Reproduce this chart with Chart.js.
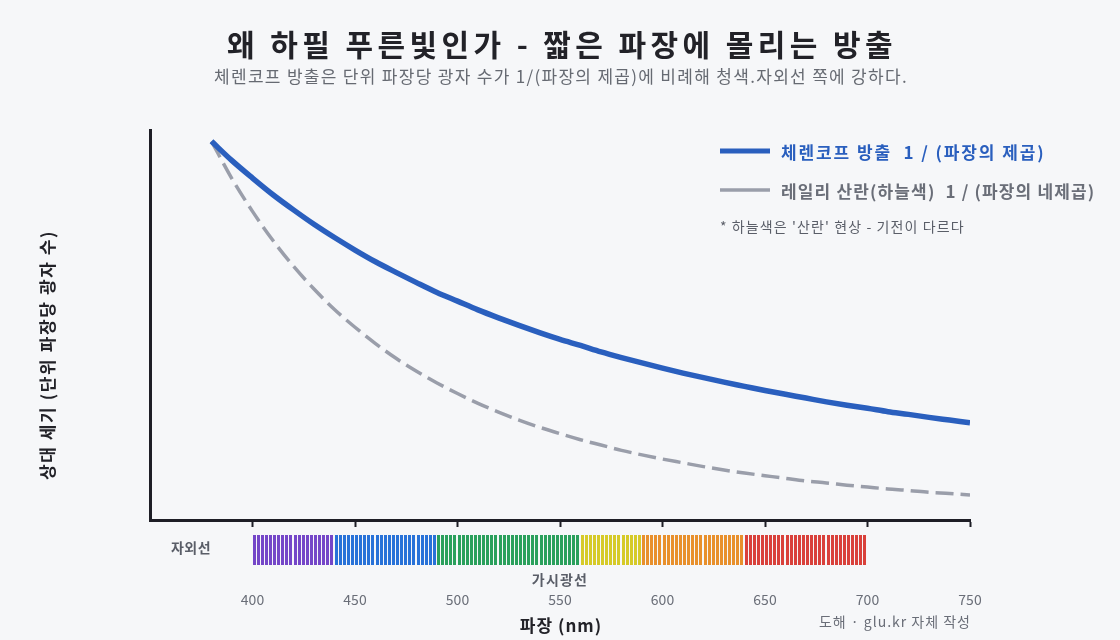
<!DOCTYPE html>
<html><head><meta charset="utf-8">
<script src="https://cdn.jsdelivr.net/npm/chart.js@4"></script>
<style>html,body{margin:0;padding:0;background:#f6f7f9;}</style>
</head><body>
<canvas id="c" width="1120" height="640"></canvas>
<script>
// ---- data ----
const wavelengths = [380,390,400,410,420,430,440,450,460,470,480,490,500,510,520,530,540,550,560,570,580,590,600,610,620,630,640,650,660,670,680,690,700,710,720,730,740,750];
const cherenkov = [1.000,0.949,0.903,0.859,0.819,0.781,0.746,0.713,0.682,0.654,0.627,0.601,0.578,0.555,0.534,0.514,0.495,0.477,0.461,0.444,0.429,0.415,0.401,0.388,0.376,0.364,0.353,0.342,0.332,0.322,0.312,0.303,0.295,0.286,0.279,0.271,0.264,0.257];
const rayleigh = [1.000,0.901,0.815,0.738,0.670,0.610,0.556,0.509,0.466,0.427,0.393,0.362,0.334,0.308,0.285,0.264,0.245,0.228,0.212,0.198,0.184,0.172,0.161,0.151,0.141,0.132,0.124,0.117,0.110,0.103,0.098,0.092,0.087,0.082,0.078,0.073,0.070,0.066];
const xTickValues = [400,450,500,550,600,650,700,750];
const bandStarts = [400,440,490,560,590,640];
const bandEnds   = [440,490,560,590,640,700];
const seriesLabels = ['체렌코프 방출  1 / (파장의 제곱)', '레일리 산란(하늘색)  1 / (파장의 네제곱)'];

// ---- styles ----
const FONT = "'Noto Sans CJK KR', 'Noto Sans', sans-serif";
const BG = '#f6f7f9';
const INK = '#1e1e26';
const BLUE = '#2a5fbe';
const GRAY = '#9a9eaa';
const bandColors = ['#7446c8','#2872d8','#2aa05c','#d6ca28','#e8902c','#d9413b'];

function txt(ctx, s, x, y, font, color, align, spacing) {
  ctx.font = font;
  ctx.fillStyle = color;
  ctx.textAlign = align;
  ctx.letterSpacing = spacing + 'px';
  ctx.fillText(s, x, y);
  ctx.letterSpacing = '0px';
}

const decor = {
  id: 'decor',
  beforeDraw(chart) {
    const ctx = chart.ctx;
    ctx.save();
    ctx.fillStyle = BG;
    ctx.fillRect(0, 0, chart.width, chart.height);
    ctx.restore();
  },
  afterDraw(chart) {
    const ctx = chart.ctx;
    const x = chart.scales.x;
    ctx.save();
    ctx.textBaseline = 'middle';
    // title & subtitle
    txt(ctx, '왜 하필 푸른빛인가 - 짧은 파장에 몰리는 방출', 562, 45, `bold 30px ${FONT}`, '#222228', 'center', 4.4);
    txt(ctx, '체렌코프 방출은 단위 파장당 광자 수가 1/(파장의 제곱)에 비례해 청색.자외선 쪽에 강하다.', 561, 77, `17px ${FONT}`, '#666a72', 'center', 1.3);

    // legend
    ctx.lineCap = 'butt';
    ctx.strokeStyle = BLUE; ctx.lineWidth = 5;
    ctx.beginPath(); ctx.moveTo(720, 151); ctx.lineTo(770, 151); ctx.stroke();
    ctx.strokeStyle = GRAY; ctx.lineWidth = 3.5;
    ctx.beginPath(); ctx.moveTo(720, 190); ctx.lineTo(770, 190); ctx.stroke();
    txt(ctx, seriesLabels[0], 781, 153, `bold 17px ${FONT}`, BLUE, 'left', 1.9);
    txt(ctx, seriesLabels[1], 781, 192, `bold 17px ${FONT}`, '#6a6e78', 'left', 1.15);
    txt(ctx, "* 하늘색은 '산란' 현상 - 기전이 다르다", 720, 227, `14px ${FONT}`, '#5a5e68', 'left', 1.1);

    // spectrum strip
    for (let b = 0; b < bandStarts.length; b++) {
      ctx.fillStyle = bandColors[b];
      for (let w = bandStarts[b]; w < bandEnds[b]; w += 2) {
        const px0 = Math.round(x.getPixelForValue(w));
        const px1 = Math.round(x.getPixelForValue(w + 1.5));
        ctx.fillRect(px0, 535, px1 - px0, 30);
      }
    }
    txt(ctx, '자외선', x.getPixelForValue(370), 548, `600 14px ${FONT}`, '#5a5e68', 'center', 0.5);
    txt(ctx, '가시광선', x.getPixelForValue(550), 580, `600 14px ${FONT}`, '#5a5e68', 'center', 1.2);

    // axis titles
    txt(ctx, '파장 (nm)', 561, 626, `bold 17px ${FONT}`, '#222228', 'center', 1);
    ctx.save();
    ctx.translate(48, 355);
    ctx.rotate(-Math.PI / 2);
    txt(ctx, '상대 세기 (단위 파장당 광자 수)', 0, 0, `bold 17px ${FONT}`, '#222228', 'center', 1.6);
    ctx.restore();

    // credit
    txt(ctx, '도해 · glu.kr 자체 작성', 971, 622, `14px ${FONT}`, '#6a6e78', 'right', 1);
    ctx.restore();
  }
};

new Chart(document.getElementById('c'), {
  type: 'line',
  data: {
    labels: wavelengths,
    datasets: [
      { label: seriesLabels[0], data: wavelengths.map((w, i) => ({x: w, y: cherenkov[i]})),
        borderColor: BLUE, borderWidth: 5.5, pointRadius: 0, cubicInterpolationMode: 'monotone',
        borderJoinStyle: 'round', fill: false },
      { label: seriesLabels[1], data: wavelengths.map((w, i) => ({x: w, y: rayleigh[i]})),
        borderColor: GRAY, borderWidth: 3.5, borderDash: [18, 7], pointRadius: 0,
        cubicInterpolationMode: 'monotone', fill: false }
    ]
  },
  options: {
    responsive: false,
    devicePixelRatio: 1,
    animation: false,
    layout: { padding: { left: 150, right: 150, top: 130, bottom: 20 } },
    plugins: { legend: { display: false }, title: { display: false }, tooltip: { enabled: false } },
    scales: {
      x: {
        type: 'linear', min: 350, max: 750,
        afterBuildTicks: s => { s.ticks = xTickValues.map(v => ({ value: v })); },
        afterFit: s => { s.height = 100; },
        grid: { drawOnChartArea: false, drawTicks: true, tickLength: 7, tickWidth: 2, tickColor: INK },
        border: { display: true, color: INK, width: 3 },
        ticks: { padding: 64, color: '#6a6e78', font: { family: FONT, size: 14 }, maxRotation: 0 }
      },
      y: {
        min: 0, max: 1.03,
        afterFit: s => { s.width = 0; },
        grid: { display: false },
        border: { display: true, color: INK, width: 3 },
        ticks: { display: false }
      }
    }
  },
  plugins: [decor]
});
</script>
</body></html>
